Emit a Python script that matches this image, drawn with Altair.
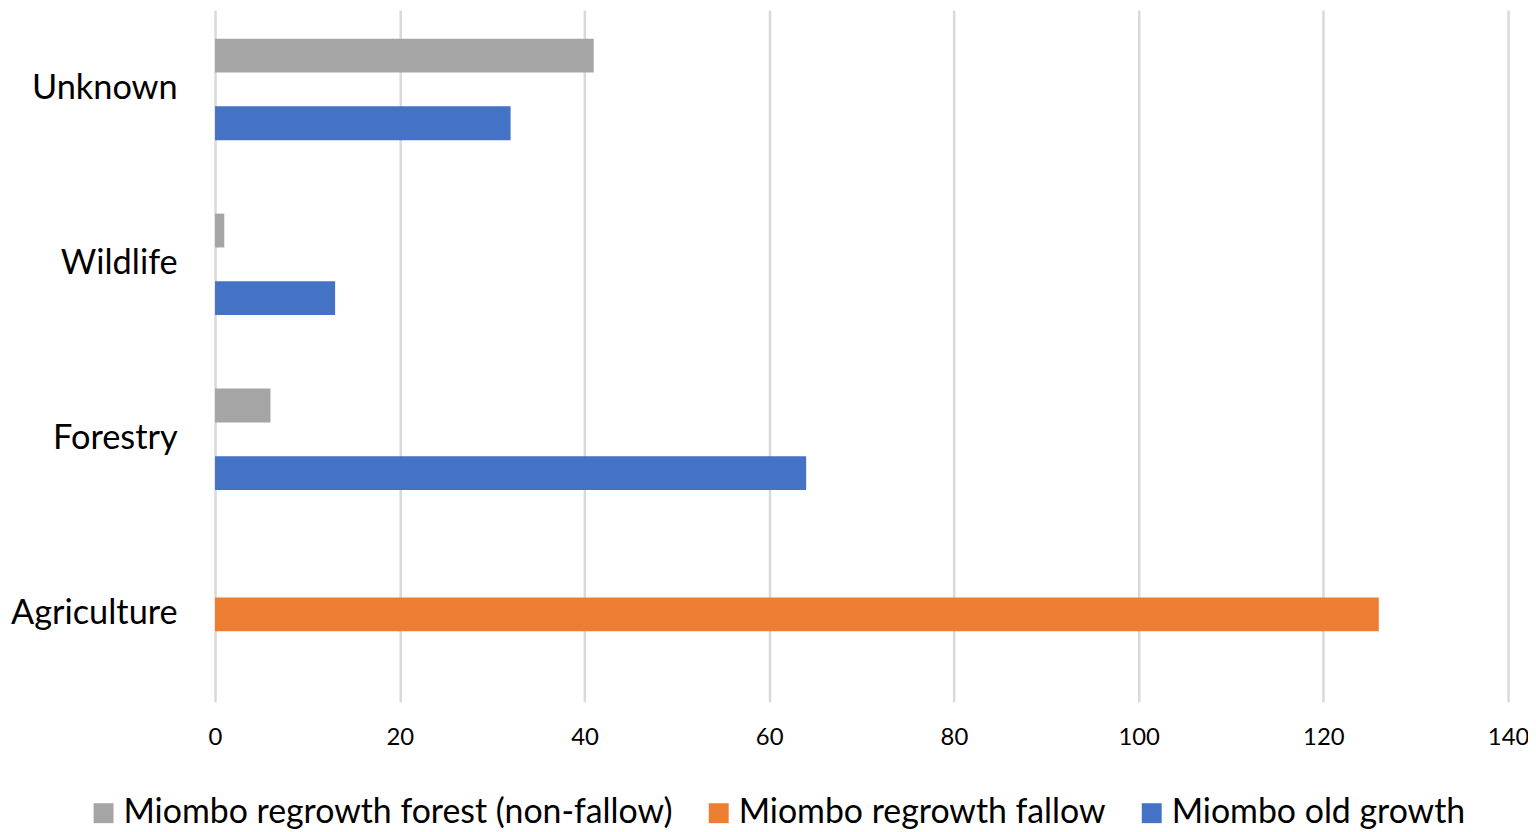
import altair as alt
import pandas as pd

categories = ["Unknown", "Wildlife", "Forestry", "Agriculture"]
series = ["Miombo regrowth forest (non-fallow)", "Miombo regrowth fallow", "Miombo old growth"]
colors = ["#A5A5A5", "#ED7D31", "#4472C4"]

regrowth_nonfallow = [41, 1, 6, 0]
regrowth_fallow = [0, 0, 0, 126]
old_growth = [32, 13, 64, 0]

x_ticks = [0, 20, 40, 60, 80, 100, 120, 140]

rows = []
for name, vals in zip(series, [regrowth_nonfallow, regrowth_fallow, old_growth]):
    for c, v in zip(categories, vals):
        rows.append({"category": c, "series": name, "value": v})
df = pd.DataFrame(rows)

FONT = "Lato"

chart = alt.Chart(df).mark_bar().encode(
    x=alt.X(
        "value:Q",
        scale=alt.Scale(domain=[0, 140], nice=False, zero=True),
        axis=alt.Axis(
            values=x_ticks, grid=True, gridColor="#D9D9D9", gridWidth=2.5,
            domain=False, ticks=False, labelFontSize=24, labelPadding=24,
            labelColor="#000000", title=None, labelFont=FONT, labelFlush=False,
        ),
    ),
    y=alt.Y(
        "category:N",
        sort=categories,
        scale=alt.Scale(paddingInner=0.42, paddingOuter=0.187, align=0.44),
        axis=alt.Axis(
            title=None, domain=False, ticks=False, grid=False,
            labelFontSize=34.5, labelPadding=38, labelColor="#000000",
            labelFont=FONT, labelLimit=400,
        ),
    ),
    yOffset=alt.YOffset(
        "series:N", sort=series,
        scale=alt.Scale(domain=series, paddingInner=0, paddingOuter=0),
    ),
    color=alt.Color(
        "series:N",
        scale=alt.Scale(domain=series, range=colors),
        legend=alt.Legend(
            title=None, orient="none", direction="horizontal",
            legendX=-129, legendY=790, padding=0,
            symbolType="square", symbolSize=400, symbolStrokeWidth=0,
            labelFontSize=34, labelFont=FONT, labelColor="#000000",
            labelLimit=800, labelOffset=3, columnPadding=29,
        ),
    ),
).properties(
    width=1299,
    height=695,
    padding={"left": 208, "top": 0, "right": 20, "bottom": 126},
    autosize=alt.AutoSizeParams(type="none"),
    background="white",
).configure_view(stroke=None, strokeWidth=0)

chart.save("out.html", embed_options={"renderer": "svg", "actions": False})
